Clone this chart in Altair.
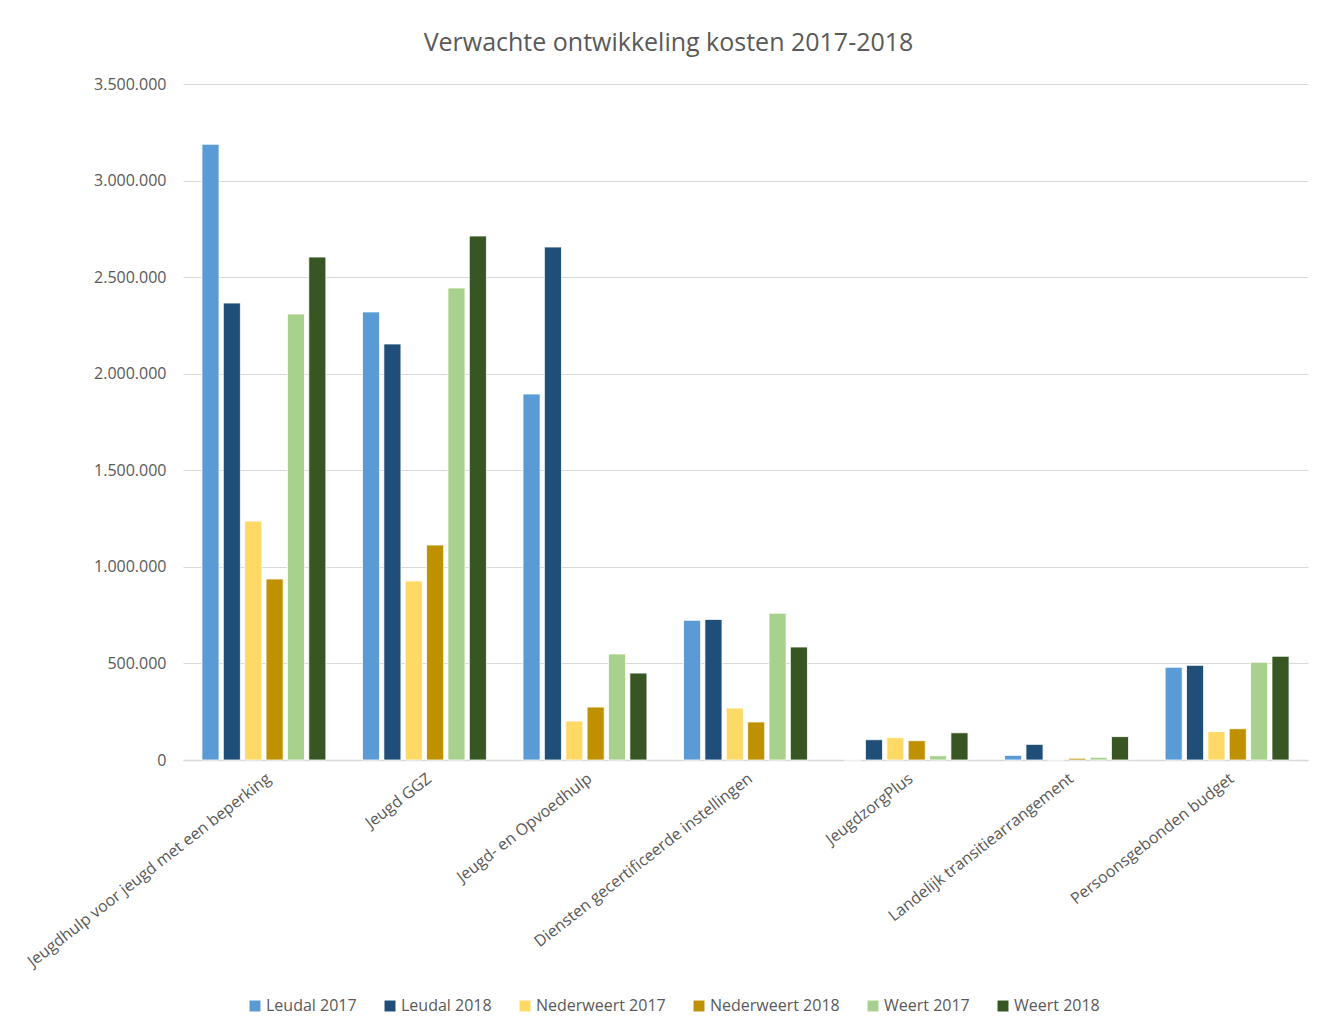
import altair as alt
import pandas as pd

categories = [
    "Jeugdhulp voor jeugd met een beperking",
    "Jeugd GGZ",
    "Jeugd- en Opvoedhulp",
    "Diensten gecertificeerde instellingen",
    "JeugdzorgPlus",
    "Landelijk transitiearrangement",
    "Persoonsgebonden budget",
]

series = ["Leudal 2017", "Leudal 2018", "Nederweert 2017", "Nederweert 2018", "Weert 2017", "Weert 2018"]
colors = ["#5B9BD5", "#1F4E79", "#FFD966", "#BF9000", "#A9D18E", "#375623"]

leudal_2017 = [3188000, 2320000, 1895000, 723000, 0, 24000, 480000]
leudal_2018 = [2366000, 2154000, 2656000, 728000, 105000, 81000, 490000]
nederweert_2017 = [1237000, 927000, 202000, 269000, 116000, 0, 147000]
nederweert_2018 = [937000, 1113000, 274000, 197000, 100000, 9000, 162000]
weert_2017 = [2309000, 2444000, 549000, 760000, 22000, 14000, 506000]
weert_2018 = [2604000, 2713000, 450000, 585000, 141000, 121000, 537000]

all_values = [leudal_2017, leudal_2018, nederweert_2017, nederweert_2018, weert_2017, weert_2018]

rows = []
for s, vals in zip(series, all_values):
    for c, v in zip(categories, vals):
        rows.append({"categorie": c, "reeks": s, "waarde": v})
df = pd.DataFrame(rows)

FONT = "Open Sans"
GREY = "#595959"

chart = (
    alt.Chart(df)
    .mark_bar(stroke="white", strokeWidth=0.8)
    .encode(
        x=alt.X(
            "categorie:N",
            sort=categories,
            title=None,
            scale=alt.Scale(paddingInner=0.228, paddingOuter=0.118),
            axis=alt.Axis(
                labelAngle=-38,
                labelFontSize=16,
                labelColor=GREY,
                labelFont=FONT,
                ticks=False,
                domainColor="#d9d9d9",
                domainWidth=1.5,
                labelPadding=10,
                labelLimit=400,
            ),
        ),
        xOffset=alt.XOffset(
            "reeks:N",
            sort=series,
            scale=alt.Scale(paddingInner=0.2, paddingOuter=0),
        ),
        y=alt.Y(
            "waarde:Q",
            title=None,
            scale=alt.Scale(domain=[0, 3500000], nice=False),
            axis=alt.Axis(
                values=[0, 500000, 1000000, 1500000, 2000000, 2500000, 3000000, 3500000],
                format=",d",
                labelFontSize=16,
                labelColor=GREY,
                labelFont=FONT,
                domain=False,
                ticks=False,
                labelPadding=17,
                gridColor="#d9d9d9",
                gridWidth=1,
            ),
        ),
        color=alt.Color(
            "reeks:N",
            sort=series,
            scale=alt.Scale(domain=series, range=colors),
            legend=alt.Legend(
                title=None,
                orient="none",
                direction="horizontal",
                legendX=64,
                legendY=914,
                symbolType="square",
                symbolSize=120,
                symbolStrokeWidth=0,
                labelFontSize=16,
                labelColor=GREY,
                labelFont=FONT,
                columnPadding=25,
                labelOffset=3,
            ),
        ),
    )
    .properties(
        width=1125,
        height=676,
        title=alt.TitleParams(
            "Verwachte ontwikkeling kosten 2017-2018",
            fontSize=25,
            font=FONT,
            fontWeight="normal",
            color=GREY,
            anchor="middle",
            offset=20,
            dx=-77,
        ),
        padding={"left": 175, "top": 76, "right": 20, "bottom": 264},
        autosize=alt.AutoSizeParams(type="none"),
    )
    .configure(
        locale={
            "number": {
                "decimal": ",",
                "thousands": ".",
                "grouping": [3],
                "currency": ["€", ""],
            }
        }
    )
    .configure_view(stroke="transparent", strokeWidth=0)
)

chart.save("out.html", embed_options={"renderer": "svg", "actions": False})
